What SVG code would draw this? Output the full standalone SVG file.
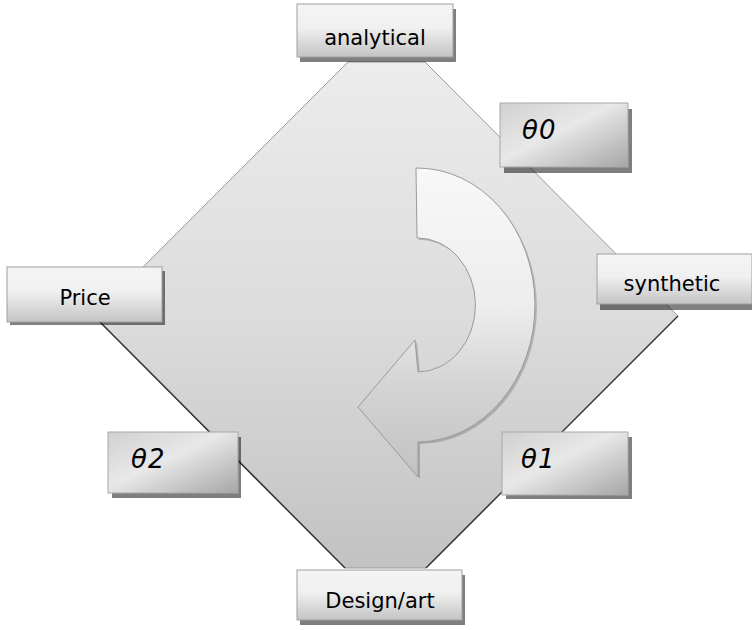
<svg xmlns="http://www.w3.org/2000/svg" width="752" height="630" viewBox="0 0 752 630">
<defs>
<linearGradient id="gDiamond" x1="0" y1="62" x2="0" y2="568" gradientUnits="userSpaceOnUse">
<stop offset="0" stop-color="#ececec"/>
<stop offset="0.5" stop-color="#dcdcdc"/>
<stop offset="1" stop-color="#c2c2c2"/>
</linearGradient>
<linearGradient id="gArrow" x1="0" y1="168" x2="0" y2="477" gradientUnits="userSpaceOnUse">
<stop offset="0" stop-color="#f8f8f8"/>
<stop offset="0.45" stop-color="#ededed"/>
<stop offset="0.7" stop-color="#d4d4d4"/>
<stop offset="1" stop-color="#c2c2c2"/>
</linearGradient>
<linearGradient id="gBox" x1="0" y1="0" x2="0" y2="1">
<stop offset="0" stop-color="#f4f4f4"/>
<stop offset="0.45" stop-color="#f0f0f0"/>
<stop offset="1" stop-color="#c4c4c4"/>
</linearGradient>
<linearGradient id="gTheta" x1="0" y1="0" x2="1" y2="1">
<stop offset="0" stop-color="#d0d0d0"/>
<stop offset="0.45" stop-color="#e8e8e8"/>
<stop offset="1" stop-color="#a6a6a6"/>
</linearGradient>
</defs>
<style>
.box{fill:url(#gBox);stroke:#a0a0a0;stroke-width:1}
.tbox{fill:url(#gTheta);stroke:#a8a8a8;stroke-width:1}
.shadow{fill:#000;fill-opacity:0.5}
.lbl{font-family:"DejaVu Sans",sans-serif;font-size:21px;fill:#000;text-anchor:middle}
.th{font-family:"DejaVu Sans",sans-serif;font-size:26px;font-style:italic;fill:#000;letter-spacing:1px}
</style>
<rect width="752" height="630" fill="#fff"/>
<g id="diamond">
<polygon points="348,62 425,62 678,316 426,568 345,568 94,316" fill="url(#gDiamond)" stroke="#9a9a9a" stroke-width="1"/>
<polyline points="94,316 345,568" fill="none" stroke="#333" stroke-width="1.5"/>
<polyline points="678,316 426,568" fill="none" stroke="#333" stroke-width="1.5"/>
</g>
<g id="cycle-arrow">
<path d="M 418 170 A 118 137 0 0 1 420 444 L 420 479 L 360 409 L 417 342 L 420 374 A 58 67 0 0 0 419 240 Z" fill="#000" fill-opacity="0.18"/>
<path d="M 416 168 A 118 137 0 0 1 418 442 L 418 477 L 358 407 L 415 340 L 418 372 A 58 67 0 0 0 417 238 Z" fill="url(#gArrow)" stroke="#9a9a9a" stroke-width="1"/>
</g>
<g id="connectors"></g>
<g id="node-analytical">
<rect class="shadow" x="300" y="9" width="156" height="53"/>
<rect class="box" x="297" y="4" width="156" height="53"/>
<text class="lbl" x="375" y="45">analytical</text>
</g>
<g id="node-theta0">
<rect class="shadow" x="504" y="109" width="128" height="64"/>
<rect class="tbox" x="500" y="103" width="128" height="64"/>
<text class="th" x="522" y="139">θ0</text>
</g>
<g id="node-synthetic">
<rect class="shadow" x="600" y="260" width="155" height="50"/>
<rect class="box" x="597" y="254" width="155" height="50"/>
<text class="lbl" x="672" y="291">synthetic</text>
</g>
<g id="node-price">
<rect class="shadow" x="10" y="271" width="155" height="54"/>
<rect class="box" x="7" y="267" width="155" height="55"/>
<text class="lbl" x="85" y="305">Price</text>
</g>
<g id="node-theta2">
<rect class="shadow" x="112" y="437" width="129" height="61"/>
<rect class="tbox" x="108" y="432" width="130" height="61"/>
<text class="th" x="131" y="468">θ2</text>
</g>
<g id="node-theta1">
<rect class="shadow" x="506" y="437" width="126" height="62"/>
<rect class="tbox" x="502" y="432" width="126" height="63"/>
<text class="th" x="521" y="468">θ1</text>
</g>
<g id="node-design">
<rect class="shadow" x="300" y="575" width="165" height="50"/>
<rect class="box" x="297" y="570" width="165" height="50"/>
<text class="lbl" x="380" y="608">Design/art</text>
</g>
</svg>
